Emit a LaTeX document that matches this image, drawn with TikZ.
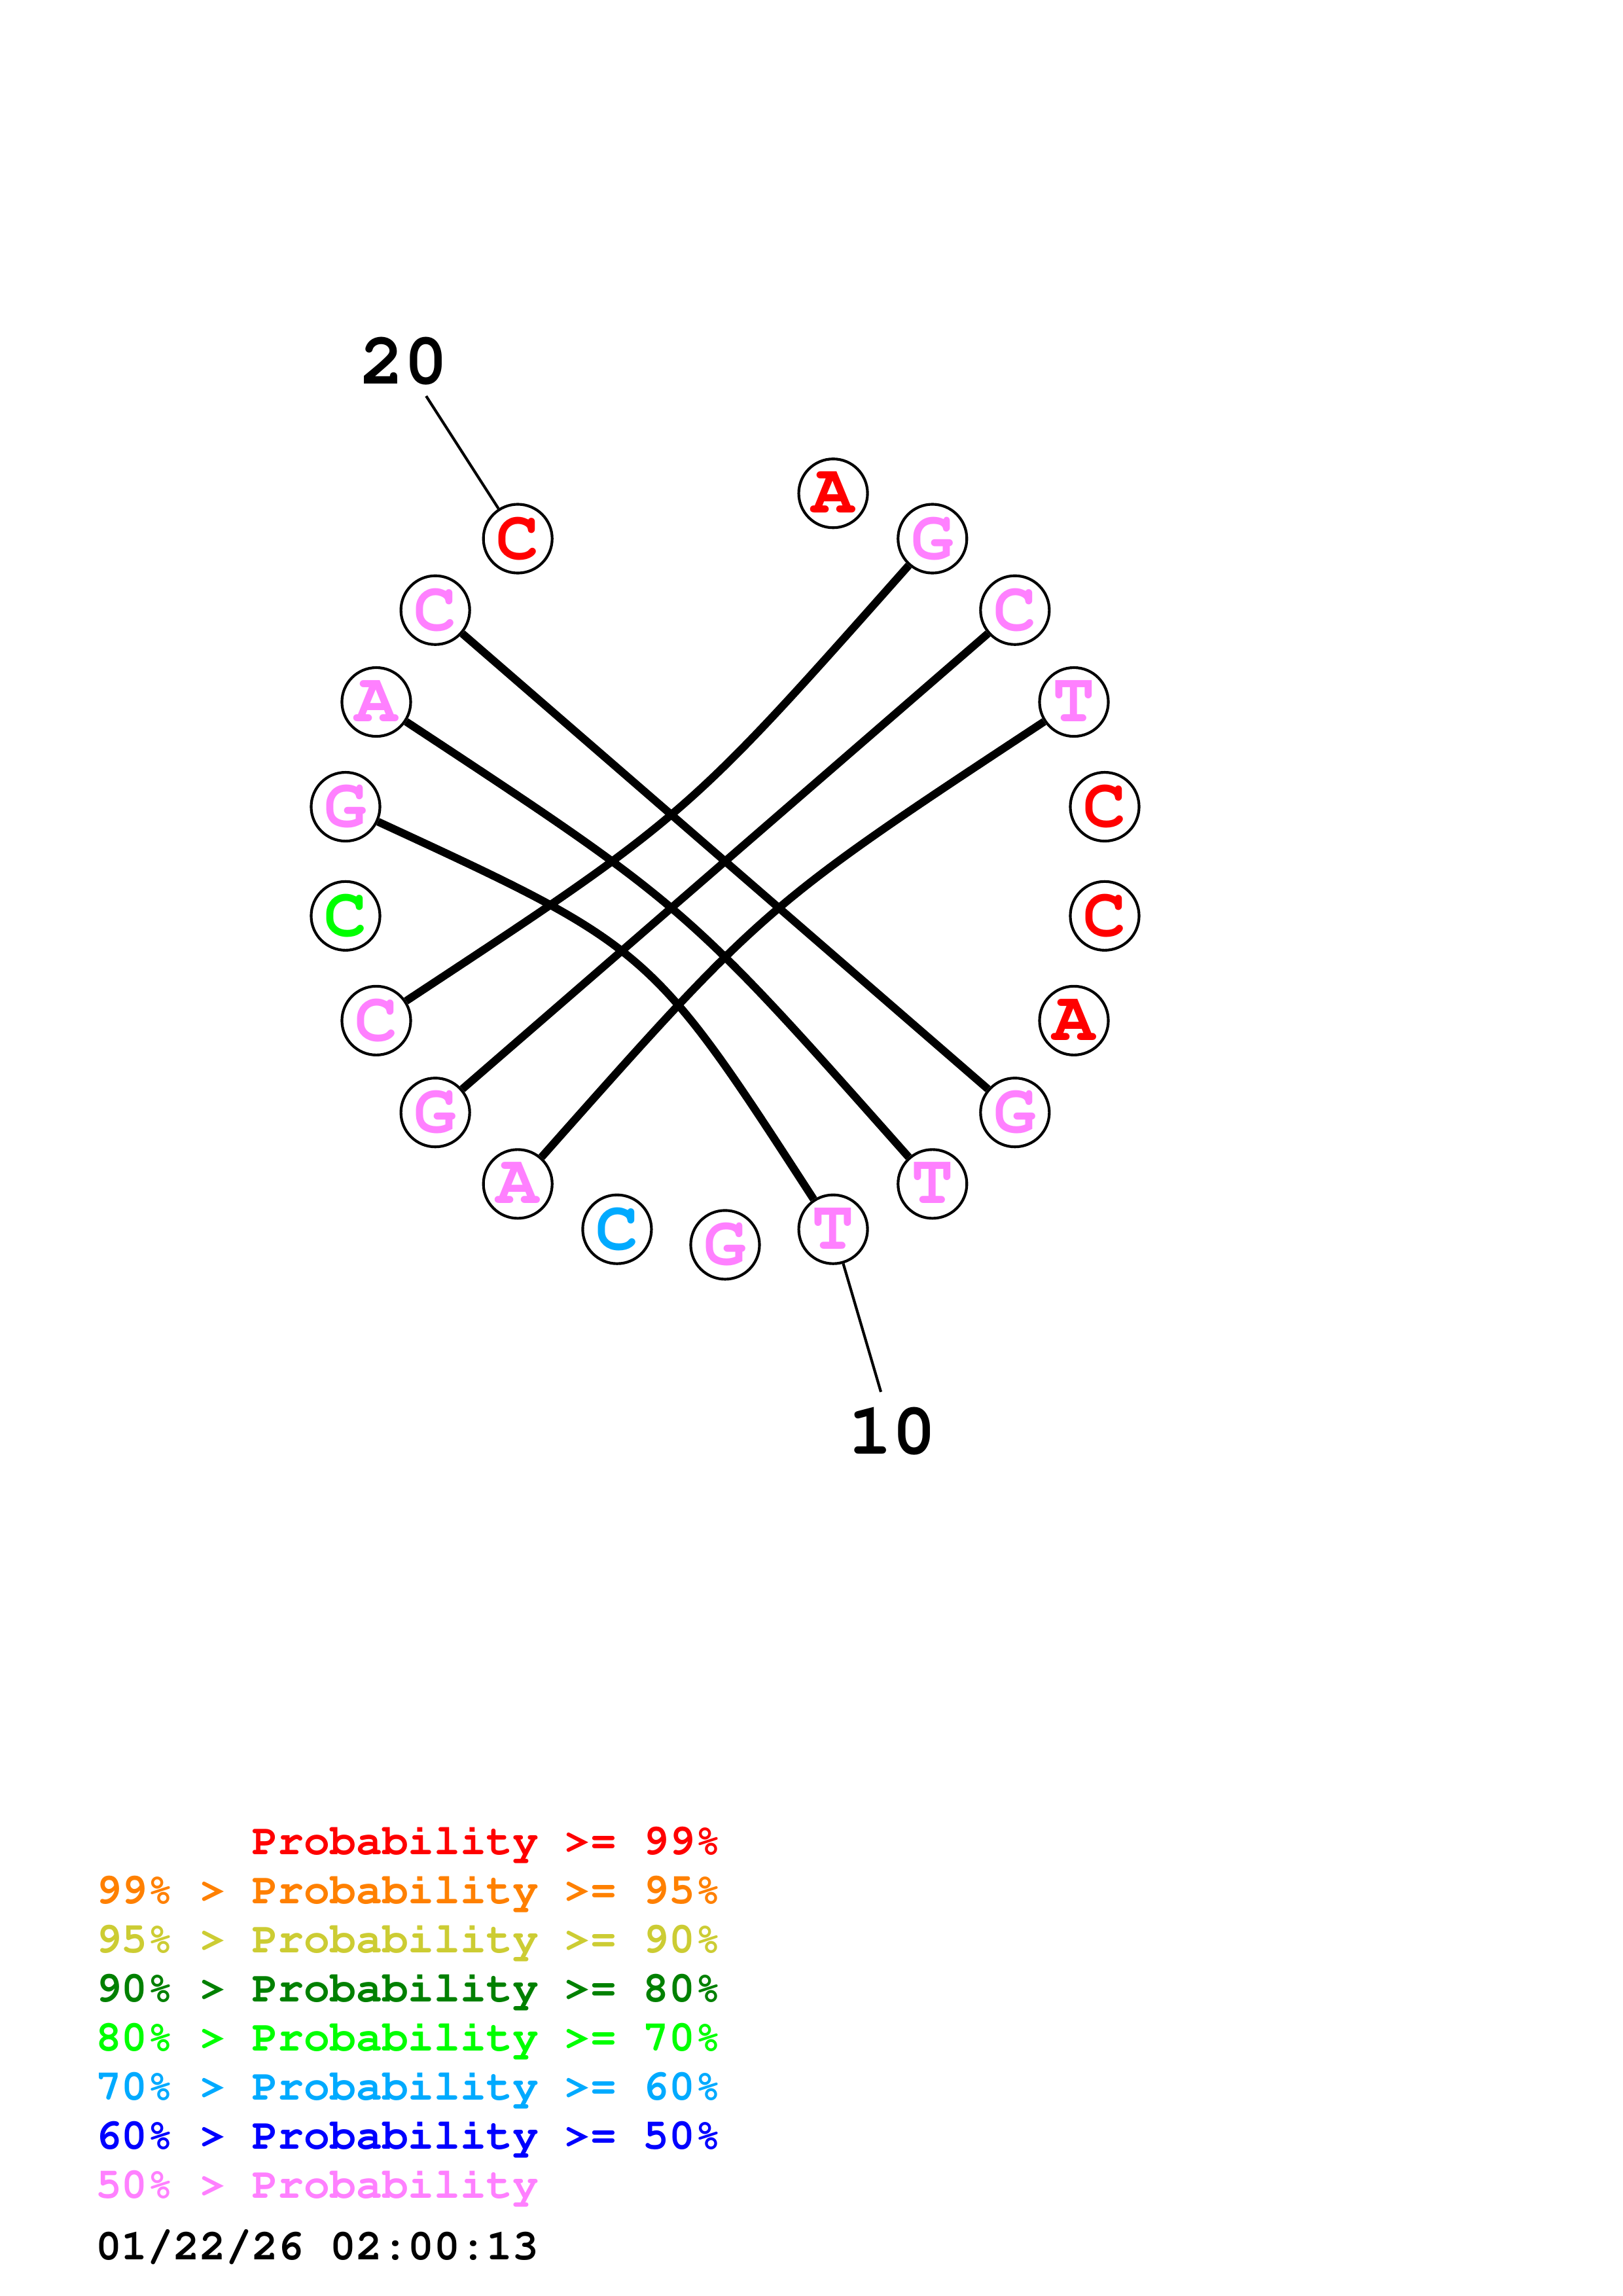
\documentclass[tikz,border=0pt]{standalone}
\usepackage[T1]{fontenc}
\usepackage{xcolor}
\usepackage{tikz}
\usetikzlibrary{calc}
\definecolor{c99}{HTML}{FF0000}
\definecolor{c95}{HTML}{FF8000}
\definecolor{c90}{HTML}{CCCC33}
\definecolor{c80}{HTML}{008000}
\definecolor{c70}{HTML}{00FF00}
\definecolor{c60}{HTML}{00AAFF}
\definecolor{c50}{HTML}{0000FF}
\definecolor{clow}{HTML}{FF80FF}
\newcommand{\cour}[1]{\fontfamily{pcr}\fontseries{b}\fontsize{#1}{#1}\selectfont}
\tikzset{nuc/.style={circle, draw, line width=1pt, fill=white, minimum size=0.89cm, inner sep=0pt, font={\cour{26}}}}
\tikzset{bond/.style={line width=2.9pt}}
\tikzset{tick/.style={line width=1pt}}
\tikzset{num/.style={inner sep=0pt, font={\cour{27}}}}
\tikzset{lgd/.style={anchor=base west, inner sep=0pt, font={\cour{16}}}}

\begin{document}
\begin{tikzpicture}
\def\Rs{4.964}
\def\da{16.3636}
\def\Rtk{7.158}
\def\Rlab{7.69}
\def\lx{1.23}

\useasboundingbox (0,0) rectangle (21,29.717);
\coordinate (O) at (9.386,18.569);

% bases round the circle
\node[nuc,text=c99] (n1) at ($(O)+({90-1*\da}:\Rs)$) {A};
\node[nuc,text=clow] (n2) at ($(O)+({90-2*\da}:\Rs)$) {G};
\node[nuc,text=clow] (n3) at ($(O)+({90-3*\da}:\Rs)$) {C};
\node[nuc,text=clow] (n4) at ($(O)+({90-4*\da}:\Rs)$) {T};
\node[nuc,text=c99] (n5) at ($(O)+({90-5*\da}:\Rs)$) {C};
\node[nuc,text=c99] (n6) at ($(O)+({90-6*\da}:\Rs)$) {C};
\node[nuc,text=c99] (n7) at ($(O)+({90-7*\da}:\Rs)$) {A};
\node[nuc,text=clow] (n8) at ($(O)+({90-8*\da}:\Rs)$) {G};
\node[nuc,text=clow] (n9) at ($(O)+({90-9*\da}:\Rs)$) {T};
\node[nuc,text=clow] (n10) at ($(O)+({90-10*\da}:\Rs)$) {T};
\node[nuc,text=clow] (n11) at ($(O)+({90-11*\da}:\Rs)$) {G};
\node[nuc,text=c60] (n12) at ($(O)+({90-12*\da}:\Rs)$) {C};
\node[nuc,text=clow] (n13) at ($(O)+({90-13*\da}:\Rs)$) {A};
\node[nuc,text=clow] (n14) at ($(O)+({90-14*\da}:\Rs)$) {G};
\node[nuc,text=clow] (n15) at ($(O)+({90-15*\da}:\Rs)$) {C};
\node[nuc,text=c70] (n16) at ($(O)+({90-16*\da}:\Rs)$) {C};
\node[nuc,text=clow] (n17) at ($(O)+({90-17*\da}:\Rs)$) {G};
\node[nuc,text=clow] (n18) at ($(O)+({90-18*\da}:\Rs)$) {A};
\node[nuc,text=clow] (n19) at ($(O)+({90-19*\da}:\Rs)$) {C};
\node[nuc,text=c99] (n20) at ($(O)+({90-20*\da}:\Rs)$) {C};

% pairs
\draw[bond] (n19) .. controls ($0.275*(n19)+0.275*(n8)+0.45*(O)$) .. (n8);
\draw[bond] (n18) .. controls ($0.275*(n18)+0.275*(n9)+0.45*(O)$) .. (n9);
\draw[bond] (n17) .. controls ($0.275*(n17)+0.275*(n10)+0.45*(O)$) .. (n10);
\draw[bond] (n2) .. controls ($0.275*(n2)+0.275*(n15)+0.45*(O)$) .. (n15);
\draw[bond] (n3) .. controls ($0.275*(n3)+0.275*(n14)+0.45*(O)$) .. (n14);
\draw[bond] (n4) .. controls ($0.275*(n4)+0.275*(n13)+0.45*(O)$) .. (n13);

% numbering
\coordinate (t10) at ($(O)+({90-10*\da}:\Rtk)$);
\coordinate (t20) at ($(O)+({90-20*\da}:\Rtk)$);
\node[num] (k10) at ($(O)+({90-10*\da}:\Rlab)$) {10};
\node[num] (k20) at ($(O)+({90-20*\da}:\Rlab)$) {20};
\draw[tick] (n10) -- (t10);
\draw[tick] (n20) -- (t20);

% key
\node[lgd,text=c99] (l1) at (\lx,5.710) {\phantom{99\% >\ }Probability >= 99\%};
\node[lgd,text=c95] (l2) at (\lx,5.076) {99\% > Probability >= 95\%};
\node[lgd,text=c90] (l3) at (\lx,4.441) {95\% > Probability >= 90\%};
\node[lgd,text=c80] (l4) at (\lx,3.807) {90\% > Probability >= 80\%};
\node[lgd,text=c70] (l5) at (\lx,3.172) {80\% > Probability >= 70\%};
\node[lgd,text=c60] (l6) at (\lx,2.538) {70\% > Probability >= 60\%};
\node[lgd,text=c50] (l7) at (\lx,1.903) {60\% > Probability >= 50\%};
\node[lgd,text=clow] (l8) at (\lx,1.269) {50\% > Probability};
\node[lgd,text=black] (ts) at (\lx,0.470) {01/22/26 02:00:13};
\end{tikzpicture}
\end{document}
